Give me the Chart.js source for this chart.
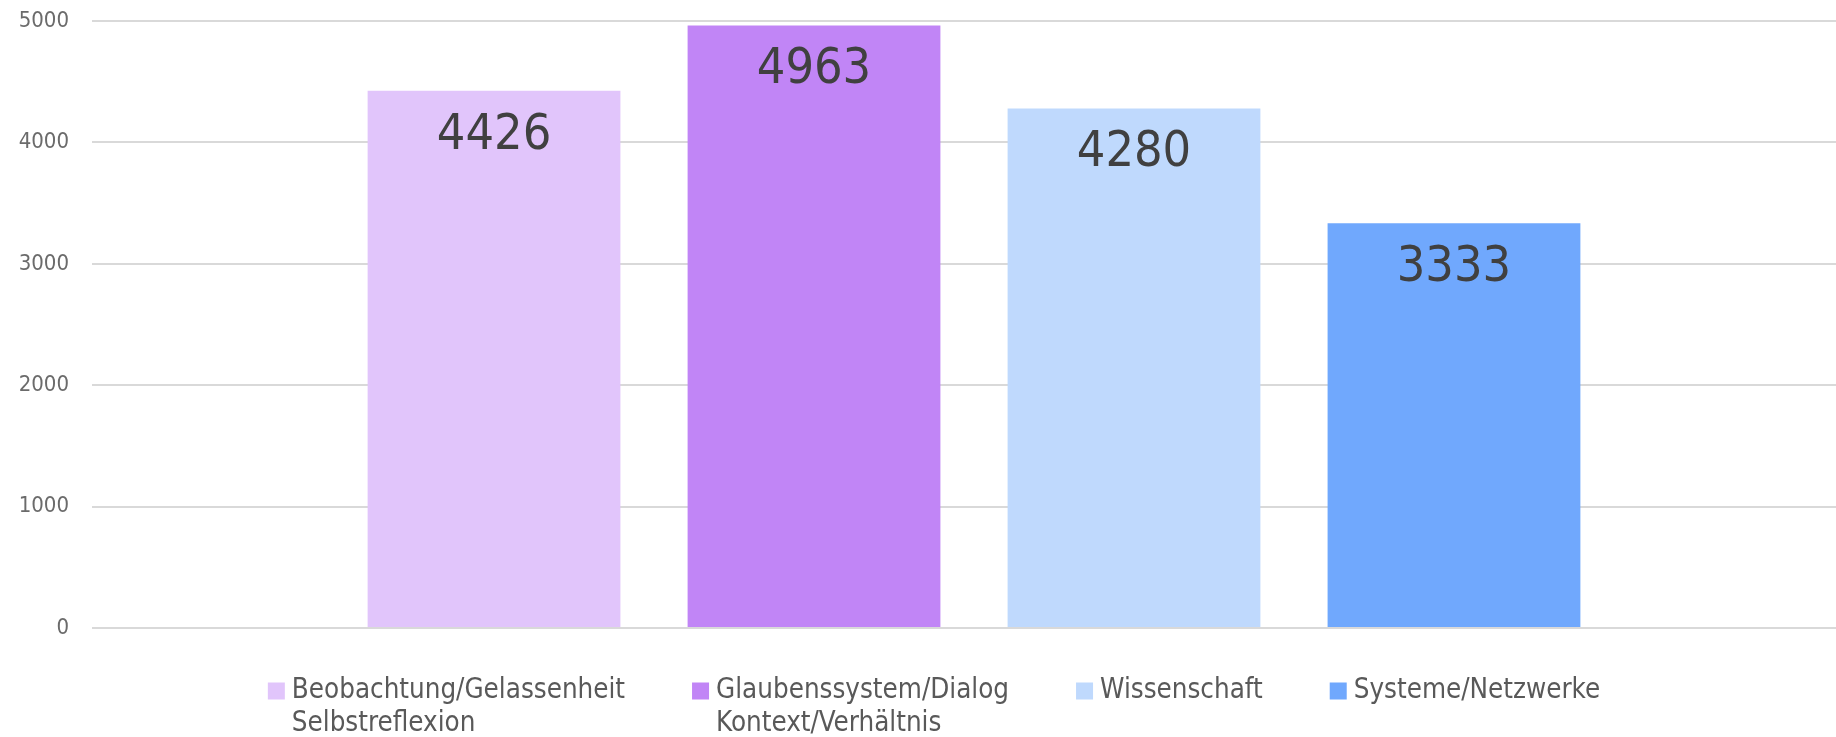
<!DOCTYPE html>
<html>
<head>
<meta charset="utf-8">
<script src="https://cdn.jsdelivr.net/npm/chart.js@4.4.1/dist/chart.umd.min.js"></script>
<style>
  html, body { margin: 0; padding: 0; background: #fff; overflow: hidden; }
  #wrap { width: 1856px; height: 737px; position: relative; }
</style>
</head>
<body>
<div id="wrap"><canvas id="chart"></canvas></div>
<script>
// data
const SERIES_LABELS = [
  ['Beobachtung/Gelassenheit', 'Selbstreflexion'],
  ['Glaubenssystem/Dialog', 'Kontext/Verhältnis'],
  ['Wissenschaft'],
  ['Systeme/Netzwerke']
];
const SERIES_VALUES = [4426, 4963, 4280, 3333];
const COLORS = ['#e1c5fb', '#c185f6', '#bfd9fd', '#70a8fd'];
const Y_TICKS = [0, 1000, 2000, 3000, 4000, 5000];

const FONT = "'Liberation Sans Narrow', 'DejaVu Sans Condensed', 'Noto Sans', sans-serif";

// value labels inside the top of each bar
const barValues = {
  id: 'barValues',
  afterDatasetsDraw(chart) {
    const ctx = chart.ctx;
    ctx.save();
    ctx.font = `50px ${FONT}`;
    ctx.fillStyle = '#404040';
    ctx.textAlign = 'center';
    ctx.textBaseline = 'middle';
    chart.data.datasets.forEach((ds, i) => {
      const bar = chart.getDatasetMeta(i).data[0];
      if (!bar) return;
      ctx.fillText(String(ds.data[0]), bar.x, bar.y + 45);
    });
    ctx.restore();
  }
};

// legend with two-line labels, drawn below the plot area
const multiLegend = {
  id: 'multiLegend',
  afterDraw(chart) {
    const ctx = chart.ctx;
    const box = 17, gap = 7, spacing = 67, lineH = 33;
    ctx.save();
    ctx.font = `27.5px ${FONT}`;
    const items = chart.data.datasets.map(ds => {
      const lines = ds.label;
      const w = Math.max(...lines.map(l => ctx.measureText(l).width));
      return { lines, color: ds.backgroundColor, w: box + gap + w };
    });
    const total = items.reduce((s, it) => s + it.w, 0) + spacing * (items.length - 1);
    let x = 934 - total / 2;
    const y0 = chart.chartArea.bottom + 63;
    ctx.textBaseline = 'middle';
    ctx.textAlign = 'left';
    items.forEach(it => {
      ctx.fillStyle = it.color;
      ctx.fillRect(x, y0 - box / 2, box, box);
      ctx.fillStyle = '#595959';
      it.lines.forEach((l, k) => ctx.fillText(l, x + box + gap, y0 + k * lineH));
      x += it.w + spacing;
    });
    ctx.restore();
  }
};

new Chart(document.getElementById('chart'), {
  type: 'bar',
  data: {
    labels: [''],
    datasets: SERIES_VALUES.map((v, i) => ({
      label: SERIES_LABELS[i],
      data: [v],
      backgroundColor: COLORS[i],
      borderWidth: 0,
      categoryPercentage: 0.7256,
      barPercentage: 0.79
    }))
  },
  options: {
    responsive: true,
    maintainAspectRatio: false,
    animation: false,
    layout: { padding: { top: 21, left: 0, right: 0, bottom: 109 } },
    scales: {
      x: { display: false },
      y: {
        min: 0, max: 5000,
        afterBuildTicks: (axis) => { axis.ticks = Y_TICKS.map(v => ({ value: v })); },
        afterFit: (axis) => { axis.width = 92; axis.paddingTop = 0; axis.paddingBottom = 0; },
        border: { display: false },
        grid: { color: '#d9d9d9', lineWidth: 2, drawTicks: false },
        ticks: {
          color: '#6b6b6b',
          padding: 23,
          font: { family: FONT, size: 22 },
          callback: (v) => String(v)
        }
      }
    },
    plugins: {
      tooltip: { enabled: false },
      legend: { display: false }
    }
  },
  plugins: [barValues, multiLegend]
});
</script>
</body>
</html>
